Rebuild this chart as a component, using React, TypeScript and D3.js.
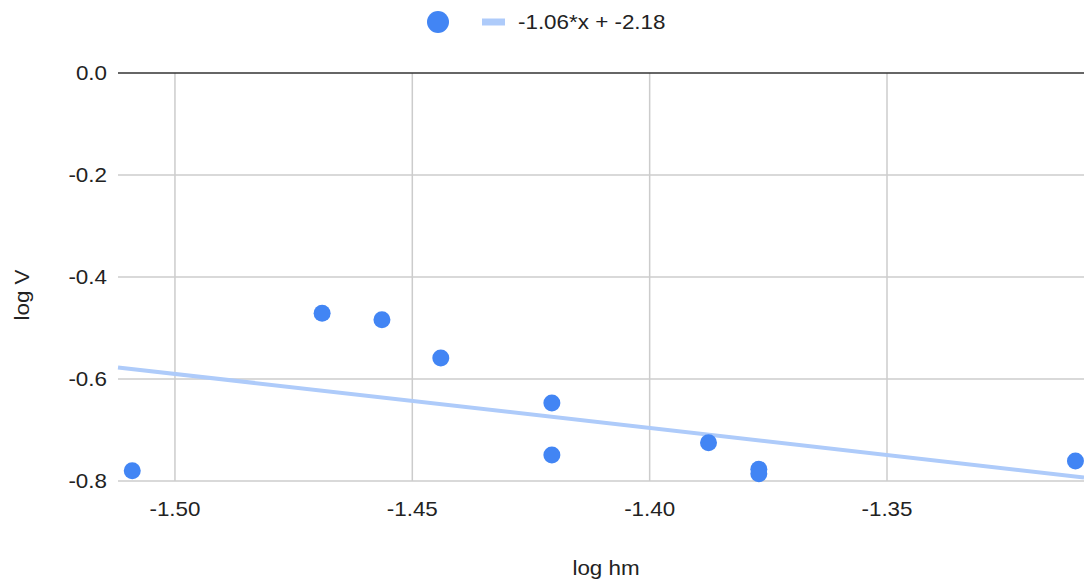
import { useRef, useEffect } from "react";
import * as d3 from "d3";

const logHm: number[] = [-1.509, -1.469, -1.4564, -1.444, -1.4206, -1.4206, -1.3876, -1.377, -1.377, -1.3103];
const logV: number[] = [-0.780, -0.471, -0.484, -0.559, -0.647, -0.749, -0.725, -0.777, -0.786, -0.761];
const xTicks: number[] = [-1.5, -1.45, -1.4, -1.35];
const yTicks: number[] = [0, -0.2, -0.4, -0.6, -0.8];
const slope = -1.06;
const intercept = -2.18;
const trendLabel = "-1.06*x + -2.18";

const W = 1084;
const H = 586;
const margin = { top: 73, right: 0, bottom: 105, left: 118 };
const font = "'Liberation Sans', Arial, sans-serif";
const stretch = 1.12; // text in the reference is a bit wide

export default function App() {
    const svgRef = useRef<SVGSVGElement>(null);

    useEffect(() => {
        const svgEl = d3.select(svgRef.current as SVGSVGElement);
        svgEl.selectAll("*").remove();

        const innerW = W - margin.left - margin.right;
        const innerH = H - margin.top - margin.bottom;

        const x = d3.scaleLinear().domain([-1.512, -1.3085]).range([0, innerW]);
        const y = d3.scaleLinear().domain([-0.8, 0]).range([innerH, 0]);

        const g = svgEl.append("g").attr("transform", `translate(${margin.left},${margin.top})`);
        const fmt1 = (d: number) => d.toFixed(1);
        const fmt2 = (d: number) => d.toFixed(2);

        // grid
        g.append("g").selectAll("line").data(xTicks).join("line")
            .attr("x1", d => x(d)).attr("x2", d => x(d))
            .attr("y1", 0).attr("y2", innerH)
            .attr("stroke", "#cccccc").attr("stroke-width", 1.5);
        g.append("g").selectAll("line").data(yTicks).join("line")
            .attr("x1", 0).attr("x2", innerW)
            .attr("y1", d => y(d)).attr("y2", d => y(d))
            .attr("stroke", d => d === 0 ? "#333333" : "#cccccc")
            .attr("stroke-width", 1.5);

        // tick labels
        g.append("g").selectAll("text").data(yTicks).join("text")
            .attr("transform", d => `translate(-11,${y(d) + 7}) scale(${stretch},1)`)
            .attr("text-anchor", "end")
            .style("font-family", font).style("font-size", "20px").attr("fill", "#222")
            .text(d => fmt1(d));
        g.append("g").selectAll("text").data(xTicks).join("text")
            .attr("transform", d => `translate(${x(d)},${innerH + 35}) scale(${stretch},1)`)
            .attr("text-anchor", "middle")
            .style("font-family", font).style("font-size", "20px").attr("fill", "#222")
            .text(d => fmt2(d));

        // axis titles
        svgEl.append("text")
            .attr("transform", `translate(29,295) rotate(-90) scale(${stretch},1)`)
            .attr("text-anchor", "middle")
            .style("font-family", font).style("font-size", "20px").attr("fill", "#222")
            .text("log V");
        svgEl.append("text")
            .attr("transform", `translate(606,575) scale(${stretch},1)`)
            .attr("text-anchor", "middle")
            .style("font-family", font).style("font-size", "20px").attr("fill", "#222")
            .text("log hm");

        // trendline
        const [x0, x1] = x.domain();
        g.append("line")
            .attr("x1", x(x0)).attr("y1", y(slope * x0 + intercept))
            .attr("x2", x(x1)).attr("y2", y(slope * x1 + intercept))
            .attr("stroke", "#aecbfa").attr("stroke-width", 4);

        // points
        g.append("g").selectAll("circle").data(d3.range(logHm.length)).join("circle")
            .attr("cx", i => x(logHm[i])).attr("cy", i => y(logV[i]))
            .attr("r", 8.5).attr("fill", "#4285f4");

        // legend
        const lg = svgEl.append("g");
        lg.append("circle").attr("cx", 438).attr("cy", 22).attr("r", 11).attr("fill", "#4285f4");
        lg.append("line").attr("x1", 482).attr("x2", 505).attr("y1", 22).attr("y2", 22)
            .attr("stroke", "#aecbfa").attr("stroke-width", 7);
        lg.append("text").attr("transform", `translate(518,29) scale(${stretch},1)`)
            .style("font-family", font).style("font-size", "20px").attr("fill", "#222")
            .text(trendLabel);
    }, []);

    return <svg ref={svgRef} width={W} height={H}
        style={{ position: "absolute", left: 0, top: 0, display: "block", background: "#fff" }} />;
}
